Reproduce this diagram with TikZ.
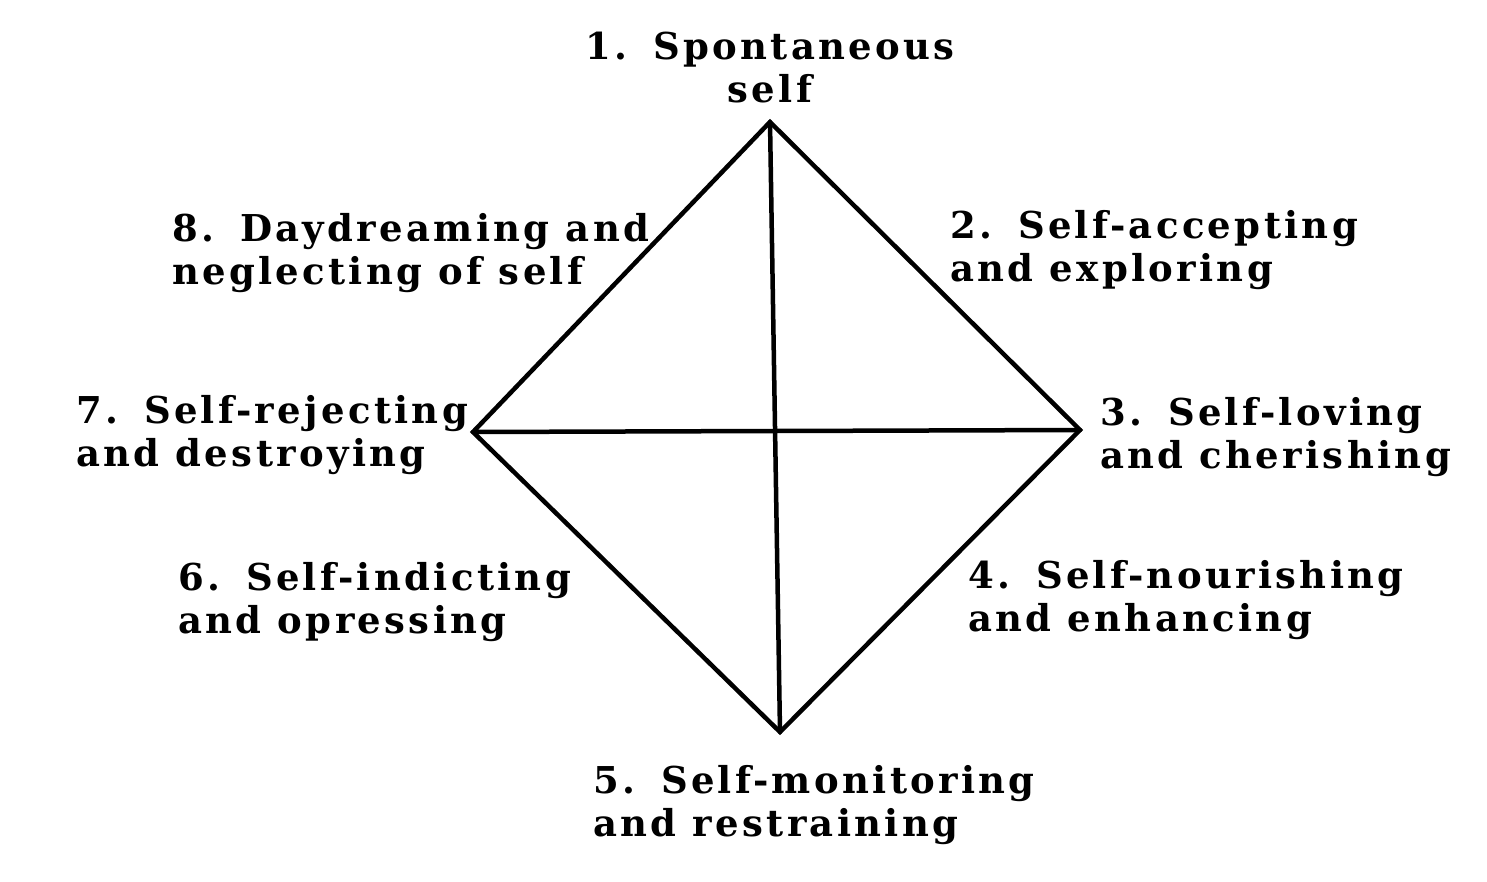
\documentclass[tikz,border=0pt]{standalone}
\usepackage{fontspec}
\setmainfont{DejaVu Serif}[LetterSpace=9]
\newcommand{\gp}{\hspace*{0.7em}}
\begin{document}
\begin{tikzpicture}[x=1pt,y=-1pt,
  lbl/.style={inner sep=0pt,align=left,anchor=north west,font=\bfseries\fontsize{37}{43}\selectfont},
  edge/.style={line width=4.5pt,line join=miter,line cap=round}]
\useasboundingbox (0,0) rectangle (1487,882);
\coordinate (T) at (770,122);
\coordinate (B) at (780,732);
\coordinate (L) at (473,432);
\coordinate (R) at (1080,430);
\draw[edge] (T) -- (R) -- (B) -- (L) -- cycle;
\draw[edge] (T) -- (B);
\draw[edge] (L) -- (R);
\node[lbl,anchor=north,align=center] (n1) at (770,32) {1.\gp{}Spontaneous\\self};
\node[lbl] (n2) at (950,210) {2.\gp{}Self-accepting\\and exploring};
\node[lbl] (n3) at (1100,397) {3.\gp{}Self-loving\\and cherishing};
\node[lbl] (n4) at (968,560) {4.\gp{}Self-nourishing\\and enhancing};
\node[lbl] (n5) at (593,765) {5.\gp{}Self-monitoring\\and restraining};
\node[lbl] (n6) at (178,562) {6.\gp{}Self-indicting\\and opressing};
\node[lbl] (n7) at (76,395) {7.\gp{}Self-rejecting\\and destroying};
\node[lbl] (n8) at (172,213) {8.\gp{}Daydreaming and\\neglecting of self};
\end{tikzpicture}
\end{document}
